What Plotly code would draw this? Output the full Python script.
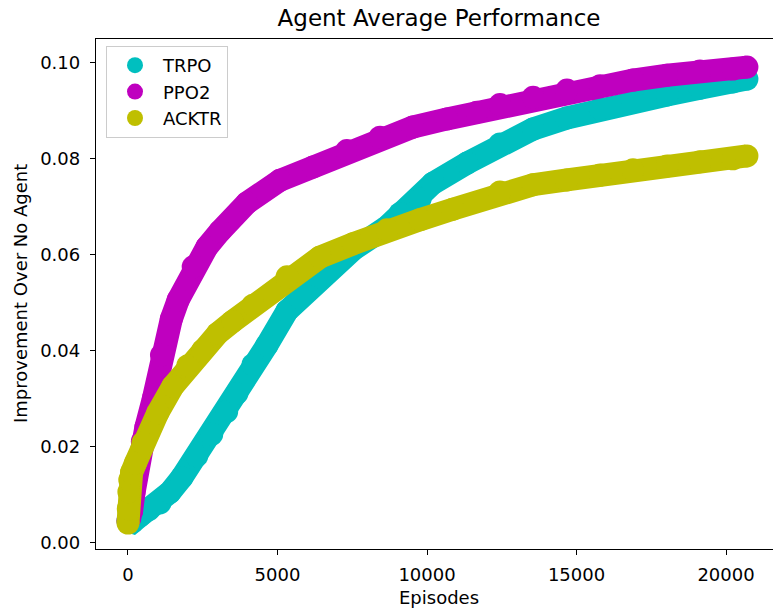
import plotly.graph_objects as go

# ---- data ----
series_names = ["TRPO", "PPO2", "ACKTR"]
series_colors = ["#00BFBF", "#BF00BF", "#BFBF00"]

trpo_x = [0, 150, 400, 700, 1070, 1400, 1800, 2300, 2800, 3300, 3640, 4180, 4640,
          5320, 5750, 6420, 7530, 8660, 9100, 9770, 10200, 11340, 12440, 13550,
          14680, 15790, 16890, 18030, 19130, 20230, 20700]
trpo_y = [0.0045, 0.0042, 0.0055, 0.0068, 0.0082, 0.0104, 0.0135, 0.0180, 0.0225,
          0.0272, 0.0310, 0.0370, 0.0410, 0.0482, 0.0510, 0.0553, 0.0610, 0.0657,
          0.0685, 0.0715, 0.0748, 0.0790, 0.0830, 0.0861, 0.0884, 0.0903, 0.0921,
          0.0932, 0.0946, 0.0959, 0.0965]

ppo2_x = [0, 60, 120, 200, 340, 480, 600, 850, 1120, 1450, 1680, 2180, 2640, 3080,
          3980, 5080, 6190, 7320, 8430, 9530, 10670, 11670, 12440, 13550, 14680,
          15790, 16890, 18030, 19130, 20230, 20700]
ppo2_y = [0.0045, 0.0050, 0.0065, 0.0103, 0.0172, 0.0210, 0.0240, 0.0300, 0.0390,
          0.0465, 0.0505, 0.0574, 0.0615, 0.0648, 0.0707, 0.0754, 0.0782, 0.0816,
          0.0844, 0.0865, 0.0882, 0.0896, 0.0912, 0.0927, 0.0942, 0.0951, 0.0963,
          0.0973, 0.0982, 0.0986, 0.0990]

acktr_x = [0, 10, 30, 60, 120, 250, 500, 1000, 1500, 2000, 2500, 3000, 3500, 4180,
           5320, 6420, 7530, 8660, 9770, 10870, 12440, 13550, 14680, 15790, 16890,
           18030, 19130, 20230, 20700]
acktr_y = [0.0040, 0.0070, 0.0105, 0.0130, 0.0145, 0.0165, 0.0207, 0.0270, 0.0325,
           0.0368, 0.0400, 0.0435, 0.0460, 0.0494, 0.0553, 0.0594, 0.0622, 0.0651,
           0.0672, 0.0694, 0.0730, 0.0745, 0.0755, 0.0765, 0.0776, 0.0784, 0.0793,
           0.0799, 0.0805]

x_ticks = [0, 5000, 10000, 15000, 20000]
x_tick_text = ["0", "5000", "10000", "15000", "20000"]
y_ticks = [0.00, 0.02, 0.04, 0.06, 0.08, 0.10]
y_tick_text = ["0.00", "0.02", "0.04", "0.06", "0.08", "0.10"]

title_text = "Agent Average Performance"
x_title = "Episodes"
y_title = "Improvement Over No Agent"

FONT = "DejaVu Sans"
W, H = 773, 612
ML, MT, MB = 96, 39, 63
plot_w = W - ML
plot_h = H - MT - MB

fig = go.Figure()
xs = [trpo_x, ppo2_x, acktr_x]
ys = [trpo_y, ppo2_y, acktr_y]
band = 23
for name, col, xv, yv in zip(series_names, series_colors, xs, ys):
    fig.add_trace(go.Scatter(x=xv, y=yv, mode="lines", showlegend=False,
                             line=dict(color=col, width=band), hoverinfo="skip",
                             legendgroup=name))
    fig.add_trace(go.Scatter(x=xv, y=yv, mode="markers", name=name,
                             marker=dict(color=col, size=band, line=dict(width=0)),
                             legendgroup=name))

fig.update_layout(
    width=W, height=H,
    margin=dict(l=ML, r=0, t=MT, b=MB, pad=0),
    paper_bgcolor="white", plot_bgcolor="white",
    font=dict(family=FONT, size=18, color="#000000"),
    title=dict(text=title_text, font=dict(family=FONT, size=23, color="#000000"),
               x=439 / W, xanchor="center", y=1 - 18 / H, yanchor="middle"),
    showlegend=True,
    legend=dict(x=(106 - ML) / plot_w, y=(H - MB - 46) / plot_h, xanchor="left", yanchor="top",
                bgcolor="rgba(255,255,255,0.85)", bordercolor="#cccccc", borderwidth=1,
                font=dict(family=FONT, size=18, color="#000000"),
                traceorder="grouped", tracegroupgap=0, itemsizing="trace",
                itemwidth=46),
)

fig.update_xaxes(range=[-1070, 21572], tickvals=x_ticks, ticktext=x_tick_text,
                 ticks="outside", ticklen=5,
                 tickwidth=1.3, tickcolor="#000000", showline=True, linecolor="#000000",
                 linewidth=1.3, mirror=True, showgrid=False, zeroline=False,
                 ticklabelstandoff=4, tickfont=dict(family=FONT, size=18, color="#000000"))
fig.update_yaxes(range=[-0.0014, 0.10485], tickvals=y_ticks, ticktext=y_tick_text,
                 ticks="outside", ticklen=5, tickwidth=1.3, tickcolor="#000000",
                 showline=True, linecolor="#000000", linewidth=1.3, mirror=False,
                 showgrid=False, zeroline=False, ticklabelstandoff=6,
                 tickfont=dict(family=FONT, size=18, color="#000000"))

fig.add_annotation(text=x_title, xref="paper", yref="paper",
                   x=(439 - ML) / plot_w, y=(H - MB - 597) / plot_h,
                   xanchor="center", yanchor="middle", showarrow=False,
                   font=dict(family=FONT, size=18, color="#000000"))
fig.add_annotation(text=y_title, xref="paper", yref="paper",
                   x=(20 - ML) / plot_w, y=0.5, textangle=-90,
                   xanchor="center", yanchor="middle", showarrow=False,
                   font=dict(family=FONT, size=18, color="#000000"))

fig.write_html("out.html", config={"displayModeBar": False},
               post_script="document.body.style.margin='0';document.body.style.overflow='hidden';")
